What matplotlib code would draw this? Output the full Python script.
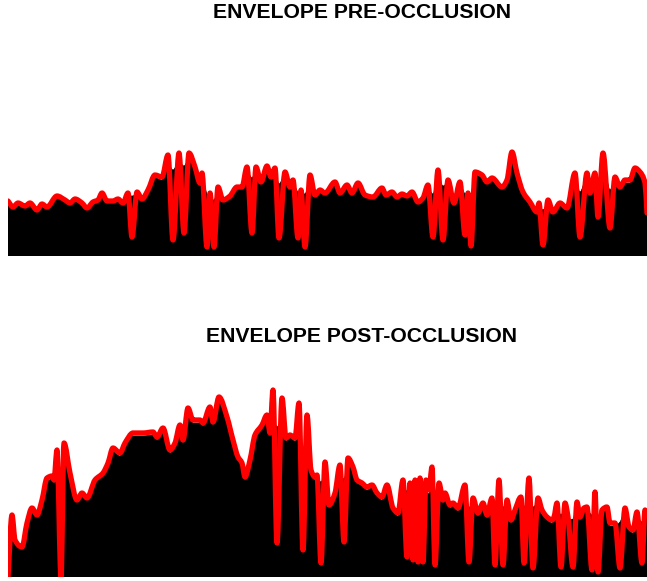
import numpy as np
import matplotlib
matplotlib.use('Agg')
import matplotlib.pyplot as plt
from matplotlib.path import Path
from matplotlib.patches import PathPatch

plt.rcParams['font.family'] = ['Liberation Sans', 'DejaVu Sans']

# pre-occlusion: time (s), envelope and rectified signal peaks
pre_t = [0.0, 0.5, 1.0, 1.7, 2.2, 2.9, 3.4, 3.9, 4.9, 5.7, 6.2, 6.7, 7.4, 7.9, 8.5, 9.0, 9.4, 9.9,
         10.5, 11.0, 11.5, 12.0, 12.4, 12.9, 13.4, 14.0, 14.7, 15.4, 16.0, 16.5, 17.1, 17.6, 18.1,
         18.7, 19.2, 19.4, 19.9, 20.2, 20.6, 21.0, 21.5, 22.2, 22.9, 23.4, 23.9, 24.4, 24.8, 25.3,
         25.9, 26.3, 26.7, 27.1, 27.7, 28.2, 28.5, 29.0, 29.3, 29.7, 30.2, 30.7, 31.2, 31.7, 32.7,
         33.2, 33.9, 34.4, 35.0, 35.7, 36.5, 37.4, 37.8, 38.4, 38.9, 39.4, 39.9, 40.4, 41.0, 41.5,
         42.0, 42.5, 43.0, 43.5, 44.0, 44.6, 45.2, 45.7, 46.0, 46.3, 46.7, 47.4, 47.9, 48.4, 49.4,
         49.9, 50.4, 50.9, 51.5, 52.2, 52.9, 53.1, 53.5, 54.0, 54.5, 55.2, 55.9, 56.7, 57.2, 57.9,
         58.2, 58.7, 59.0, 59.5, 60.2, 60.7, 61.2, 61.7, 62.2, 62.7, 63.2, 63.7, 63.9]
pre_env = [0.55, 0.49, 0.53, 0.50, 0.53, 0.46, 0.52, 0.49, 0.60, 0.56, 0.53, 0.57, 0.53, 0.48, 0.54,
           0.56, 0.63, 0.55, 0.55, 0.57, 0.53, 0.63, 0.19, 0.64, 0.57, 0.66, 0.81, 0.79, 1.01, 0.16,
           1.03, 0.23, 1.03, 0.89, 0.73, 0.83, 0.09, 0.63, 0.09, 0.69, 0.56, 0.60, 0.69, 0.69, 0.89,
           0.23, 0.89, 0.74, 0.90, 0.79, 0.88, 0.18, 0.84, 0.69, 0.76, 0.18, 0.66, 0.09, 0.81, 0.61,
           0.66, 0.63, 0.74, 0.63, 0.71, 0.63, 0.73, 0.61, 0.59, 0.68, 0.61, 0.64, 0.59, 0.62, 0.60,
           0.64, 0.54, 0.58, 0.71, 0.19, 0.86, 0.16, 0.76, 0.53, 0.74, 0.21, 0.63, 0.10, 0.84, 0.81,
           0.74, 0.78, 0.69, 0.76, 1.04, 0.83, 0.64, 0.54, 0.44, 0.53, 0.11, 0.56, 0.44, 0.53, 0.48,
           0.83, 0.19, 0.83, 0.63, 0.83, 0.39, 1.03, 0.28, 0.79, 0.69, 0.76, 0.76, 0.88, 0.84, 0.73,
           0.43]
pre_sig = [0.53, 0.47, 0.51, 0.48, 0.51, 0.44, 0.50, 0.47, 0.58, 0.54, 0.51, 0.55, 0.51, 0.46, 0.52,
           0.54, 0.60, 0.53, 0.53, 0.55, 0.51, 0.60, 0.60, 0.61, 0.55, 0.63, 0.78, 0.76, 0.92, 0.86,
           0.94, 0.90, 0.97, 0.86, 0.70, 0.78, 0.62, 0.58, 0.56, 0.66, 0.54, 0.58, 0.67, 0.67, 0.85,
           0.78, 0.86, 0.72, 0.87, 0.77, 0.85, 0.72, 0.81, 0.67, 0.73, 0.64, 0.63, 0.62, 0.77, 0.59,
           0.64, 0.61, 0.71, 0.61, 0.68, 0.61, 0.70, 0.59, 0.57, 0.65, 0.59, 0.62, 0.57, 0.60, 0.58,
           0.62, 0.52, 0.56, 0.67, 0.62, 0.80, 0.70, 0.73, 0.51, 0.71, 0.62, 0.60, 0.62, 0.81, 0.78,
           0.72, 0.75, 0.67, 0.74, 0.99, 0.80, 0.62, 0.52, 0.42, 0.50, 0.46, 0.53, 0.42, 0.51, 0.46,
           0.79, 0.64, 0.79, 0.61, 0.79, 0.66, 0.95, 0.66, 0.76, 0.67, 0.73, 0.73, 0.85, 0.81, 0.70,
           0.62]

# post-occlusion
post_t = [0.0, 0.4, 0.7, 1.4, 1.9, 2.4, 2.9, 3.4, 3.9, 4.4, 4.6, 4.9, 5.3, 5.6, 6.2, 6.9, 7.4, 7.9,
          8.7, 9.5, 10.0, 10.5, 11.2, 11.7, 12.5, 13.5, 14.5, 14.9, 15.5, 16.2, 16.7, 17.2, 17.5,
          18.0, 18.5, 19.2, 19.5, 20.2, 20.5, 21.1, 21.9, 22.5, 23.0, 23.4, 23.7, 24.2, 24.7, 25.4,
          25.9, 26.2, 26.5, 26.9, 27.4, 27.8, 28.2, 28.7, 29.1, 29.5, 29.9, 30.3, 30.7, 30.9, 31.3,
          31.7, 32.1, 32.7, 33.2, 33.6, 34.0, 34.5, 34.9, 35.4, 35.9, 36.4, 36.9, 37.4, 37.9, 38.5,
          39.0, 39.5, 39.9, 40.2, 40.5, 40.7, 41.0, 41.2, 41.5, 41.8, 42.1, 42.4, 42.7, 43.1, 43.5,
          43.7, 44.2, 44.5, 45.0, 45.7, 46.1, 46.5, 47.0, 47.5, 47.9, 48.4, 48.7, 49.1, 49.5, 49.9,
          50.3, 50.7, 51.3, 51.6, 52.1, 52.5, 53.0, 53.4, 53.9, 54.4, 54.6, 54.9, 55.3, 55.7, 56.0,
          56.5, 56.9, 57.2, 57.6, 57.9, 58.4, 58.7, 59.0, 59.4, 59.9, 60.2, 60.7, 61.2, 61.7, 62.1,
          62.5, 62.9, 63.4, 63.7, 63.9]
post_env = [0.00, 0.62, 0.37, 0.30, 0.54, 0.69, 0.62, 0.77, 0.99, 1.01, 0.97, 1.27, 0.00, 1.34, 1.04,
            0.77, 0.84, 0.79, 0.97, 1.04, 1.14, 1.29, 1.24, 1.34, 1.44, 1.44, 1.45, 1.40, 1.49, 1.27,
            1.34, 1.52, 1.37, 1.69, 1.57, 1.57, 1.54, 1.70, 1.55, 1.80, 1.60, 1.37, 1.20, 1.14, 1.00,
            1.17, 1.42, 1.52, 1.62, 1.44, 1.87, 0.34, 1.79, 1.39, 1.42, 1.39, 1.74, 0.27, 1.62, 1.07,
            1.00, 1.02, 0.14, 1.15, 0.72, 0.84, 1.12, 0.35, 1.19, 1.10, 0.97, 0.94, 0.90, 0.92, 0.84,
            0.80, 0.92, 0.69, 0.64, 0.97, 0.20, 0.94, 0.17, 0.97, 0.15, 0.99, 0.15, 0.97, 0.87, 1.10,
            0.12, 0.94, 0.77, 0.84, 0.72, 0.74, 0.69, 0.92, 0.15, 0.79, 0.64, 0.74, 0.62, 0.79, 0.12,
            0.97, 0.12, 0.77, 0.57, 0.67, 0.80, 0.14, 0.99, 0.09, 0.79, 0.67, 0.60, 0.57, 0.60, 0.74,
            0.10, 0.74, 0.60, 0.10, 0.75, 0.60, 0.69, 0.70, 0.07, 0.85, 0.05, 0.67, 0.70, 0.54, 0.54,
            0.09, 0.69, 0.50, 0.47, 0.65, 0.14, 0.67, 0.62]
post_sig = [0.40, 0.42, 0.35, 0.28, 0.51, 0.65, 0.60, 0.74, 0.95, 0.98, 0.94, 1.00, 1.05, 1.22, 1.01,
            0.75, 0.82, 0.77, 0.94, 1.01, 1.11, 1.25, 1.21, 1.31, 1.41, 1.41, 1.42, 1.37, 1.46, 1.24,
            1.31, 1.48, 1.34, 1.63, 1.54, 1.54, 1.51, 1.65, 1.52, 1.74, 1.57, 1.34, 1.17, 1.11, 0.97,
            1.14, 1.38, 1.48, 1.58, 1.41, 1.60, 1.50, 1.58, 1.36, 1.39, 1.36, 1.40, 1.30, 1.30, 1.04,
            0.97, 0.99, 0.95, 1.02, 0.70, 0.81, 1.02, 0.98, 1.13, 1.07, 0.94, 0.91, 0.87, 0.89, 0.81,
            0.77, 0.89, 0.66, 0.61, 0.90, 0.86, 0.86, 0.86, 0.88, 0.86, 0.88, 0.86, 0.86, 0.83, 0.95,
            0.85, 0.86, 0.74, 0.81, 0.69, 0.71, 0.66, 0.85, 0.70, 0.70, 0.61, 0.71, 0.59, 0.73, 0.70,
            0.80, 0.70, 0.72, 0.54, 0.64, 0.75, 0.70, 0.80, 0.70, 0.74, 0.64, 0.57, 0.54, 0.57, 0.69,
            0.62, 0.69, 0.57, 0.58, 0.70, 0.57, 0.66, 0.67, 0.62, 0.75, 0.62, 0.64, 0.67, 0.51, 0.51,
            0.55, 0.65, 0.47, 0.44, 0.60, 0.55, 0.62, 0.59]

titles = ['ENVELOPE PRE-OCCLUSION', 'ENVELOPE POST-OCCLUSION']
panels = [(pre_t, pre_sig, pre_env), (post_t, post_sig, post_env)]


def smooth_path(x, y, close=False):
	# monotone cubic (Fritsch-Carlson) through the points, as Bezier segments
	x = np.asarray(x, float)
	y = np.asarray(y, float)
	h = np.diff(x)
	d = np.diff(y) / h
	m = np.zeros_like(y)
	m[0], m[-1] = d[0], d[-1]
	for k in range(1, len(y) - 1):
		if d[k - 1] * d[k] > 0:
			w1 = 2 * h[k] + h[k - 1]
			w2 = h[k] + 2 * h[k - 1]
			m[k] = (w1 + w2) / (w1 / d[k - 1] + w2 / d[k])
	verts = [(x[0], y[0])]
	codes = [Path.MOVETO]
	for k in range(len(x) - 1):
		verts += [(x[k] + h[k] / 3, y[k] + m[k] * h[k] / 3),
			(x[k + 1] - h[k] / 3, y[k + 1] - m[k + 1] * h[k] / 3),
			(x[k + 1], y[k + 1])]
		codes += [Path.CURVE4] * 3
	if close:
		verts += [(x[-1], 0), (x[0], 0), (x[0], y[0])]
		codes += [Path.LINETO, Path.LINETO, Path.CLOSEPOLY]
	return Path(verts, codes)


W, H = 647, 581
fig = plt.figure(figsize=(W / 100, H / 100), dpi=100)

# axes rectangles in pixels: left, baseline, width, height
boxes = [(8, 256, 639, 220), (8, 577, 639, 220)]
title_y = [13, 337]

for (t, sig, env), (x0, yb, w, h), title, ty in zip(panels, boxes, titles, title_y):
	ax = fig.add_axes([x0 / W, (H - yb) / H, w / W, h / H])
	ax.add_patch(PathPatch(smooth_path(t, sig, close=True), facecolor='black',
		edgecolor='black', lw=0.5))
	ax.add_patch(PathPatch(smooth_path(t, env), facecolor='none', edgecolor='#ff0000',
		lw=3.8, joinstyle='round', capstyle='round'))
	ax.set_xlim(0, 63.9)
	ax.set_ylim(0, 2.2)
	ax.axis('off')
	fig.text(362 / W, 1 - ty / H, title, ha='center', va='center',
		fontsize=15.2, fontweight='bold')

plt.savefig('out.png', dpi=100)
